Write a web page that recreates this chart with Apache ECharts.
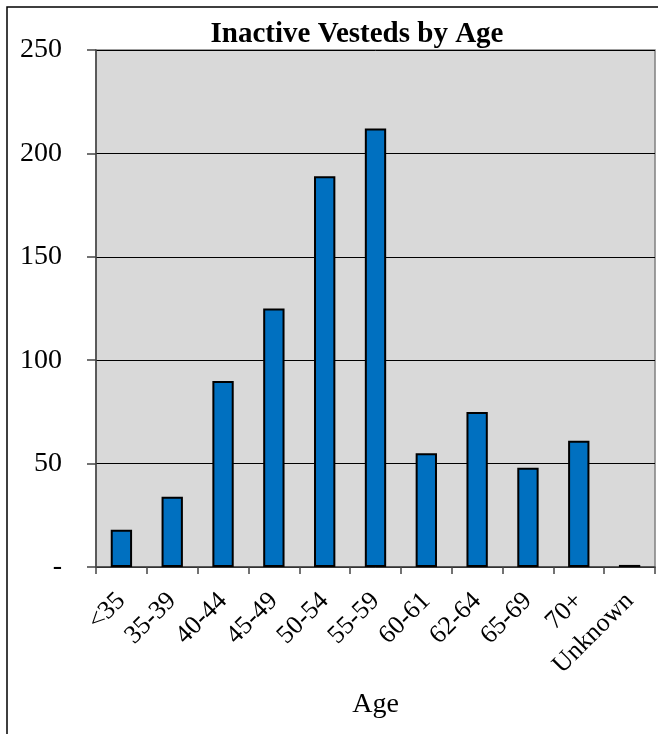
<!DOCTYPE html>
<html>
<head>
<meta charset="utf-8">
<script src="https://cdn.jsdelivr.net/npm/echarts@6/dist/echarts.min.js"></script>
<style>
html,body{margin:0;padding:0;background:#fff;}
#chart{width:658px;height:734px;}
</style>
</head>
<body>
<div id="chart"></div>
<script>
const categories = ['<35','35-39','40-44','45-49','50-54','55-59','60-61','62-64','65-69','70+','Unknown'];
const values = [18,34,90,125,189,212,55,75,48,61,1];
const yTicks = [0,50,100,150,200,250];

const chart = echarts.init(document.getElementById('chart'));
const font = '"Liberation Serif","Times New Roman",serif';
chart.setOption({
  animation:false,
  backgroundColor:'#fff',
  graphic:[{type:'rect',shape:{x:7,y:7,width:700,height:760},style:{fill:'none',stroke:'#000',lineWidth:1.5},silent:true,z:-1}],
  title:{text:'Inactive Vesteds by Age',left:352,top:15,textAlign:'center',textStyle:{fontFamily:font,fontWeight:'bold',fontSize:29,color:'#000'}},
  grid:{left:96,right:3,top:50,bottom:167,show:true,backgroundColor:'#D9D9D9',borderColor:'#808080',borderWidth:1.5},
  xAxis:{type:'category',data:categories,
    axisLine:{lineStyle:{color:'#444',width:1.5}},
    axisTick:{show:true,length:7,lineStyle:{color:'#444',width:1.5}},
    axisLabel:{rotate:45,margin:30,fontFamily:font,fontSize:26,color:'#000',interval:0},
    name:'Age',nameLocation:'middle',nameGap:124,nameTextStyle:{fontFamily:font,fontSize:28,color:'#000'}},
  yAxis:{type:'value',min:yTicks[0],max:yTicks[yTicks.length-1],interval:50,
    axisLine:{show:true,lineStyle:{color:'#444',width:1.5}},
    axisTick:{show:true,length:9,lineStyle:{color:'#444',width:1.5}},
    axisLabel:{margin:34,fontFamily:font,fontSize:28,color:'#000',formatter:v=>v===0?'-':String(v)},
    splitLine:{lineStyle:{color:'#000',width:1}}},
  series:[{type:'bar',data:values,barWidth:'42%',
    itemStyle:{color:'#0070C0',borderColor:'#000',borderWidth:2}}]
});
</script>
</body>
</html>
